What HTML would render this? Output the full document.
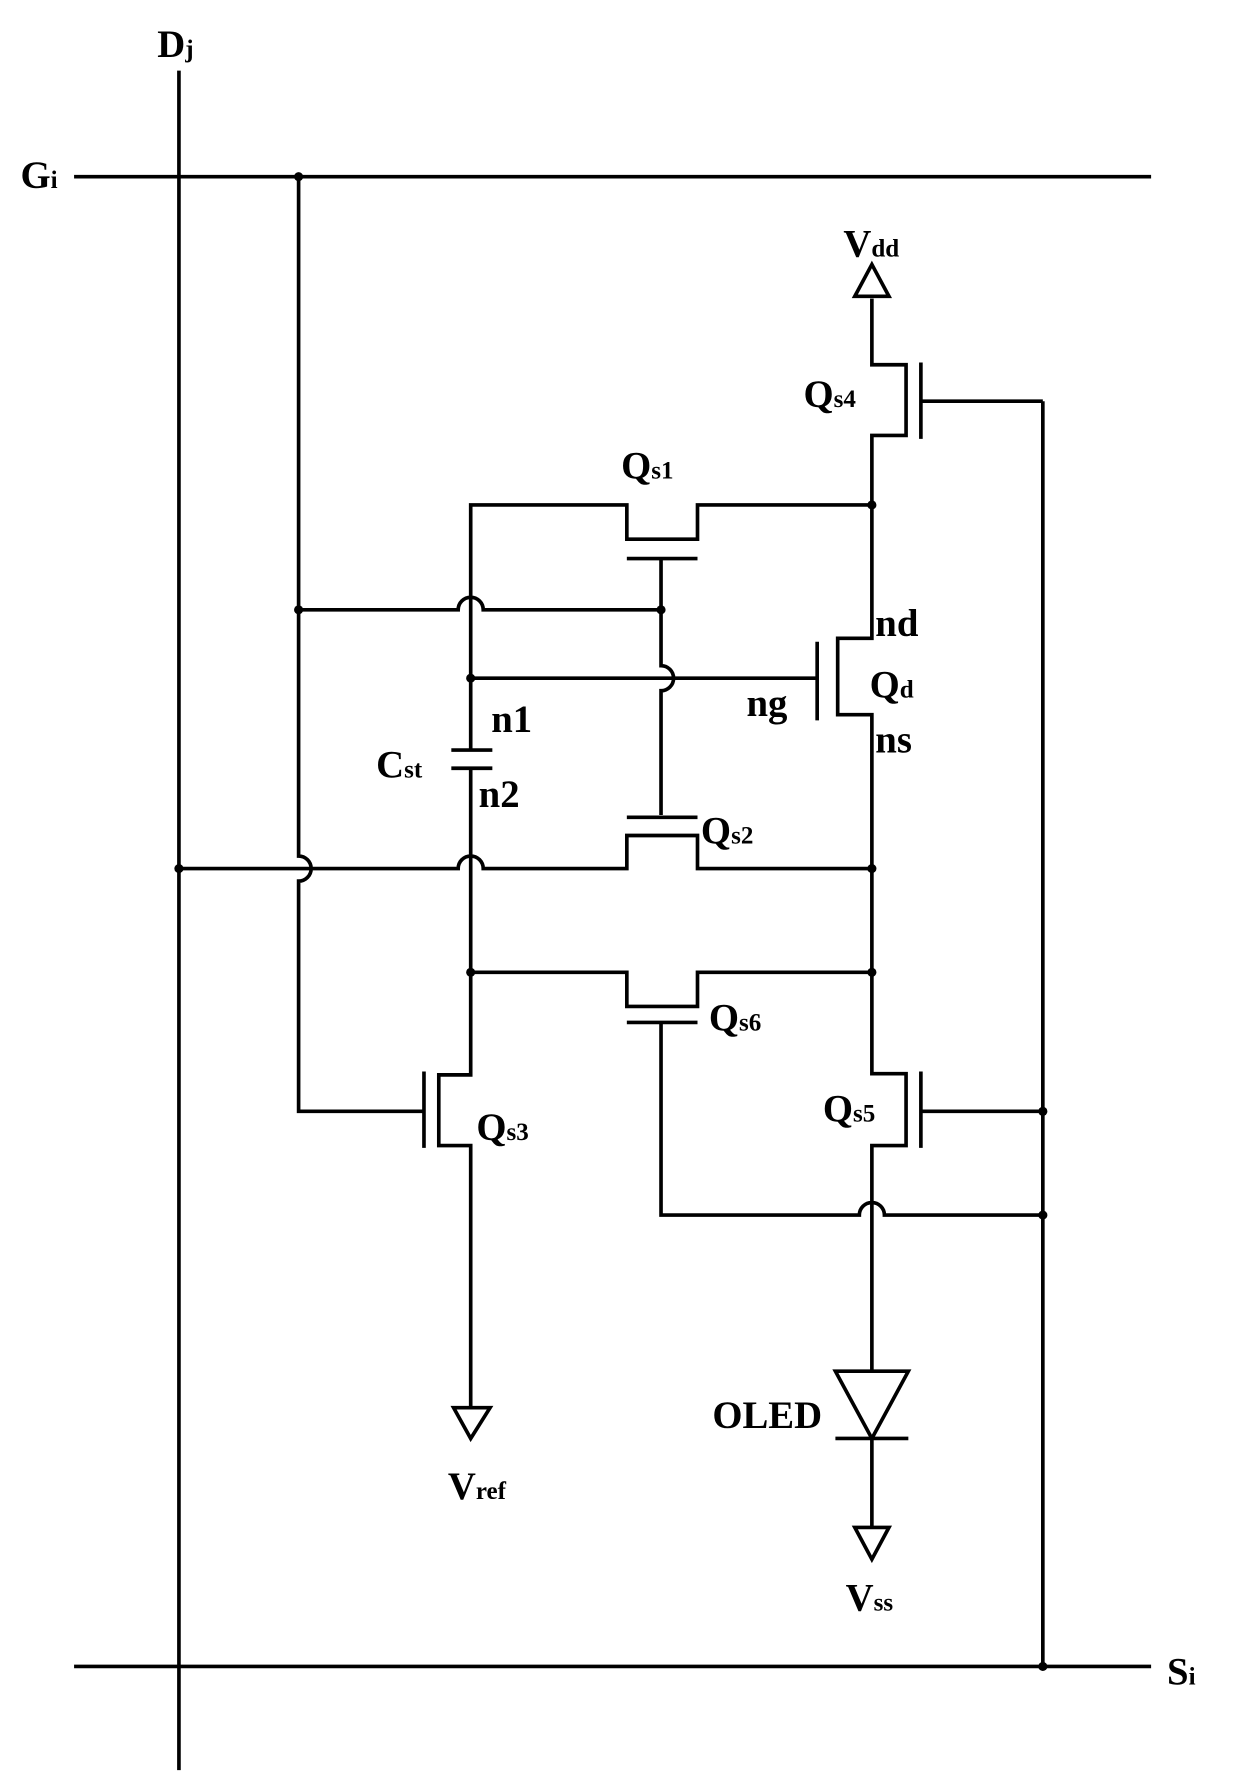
<!DOCTYPE html>
<html><head><meta charset="utf-8"><style>
html,body{margin:0;padding:0;background:#fff;}
svg{display:block;}
text{font-family:"Liberation Serif",serif;font-weight:bold;fill:#000;}
.m{font-size:34px;}
.s{font-size:22px;}
</style></head><body>
<svg width="1240" height="1785" viewBox="0 0 1088 1566" preserveAspectRatio="none" xmlns="http://www.w3.org/2000/svg">
<g fill="none" stroke="#000" stroke-width="3.2">
<line x1="157" y1="62" x2="157" y2="1553"/>
<line x1="65" y1="155" x2="1010" y2="155"/>
<line x1="65" y1="1462" x2="1010" y2="1462"/>
<path d="M262 155 V751 A11 11 0 0 1 262 773 V975 H372"/>
<line x1="372" y1="940" x2="372" y2="1007"/>
<path d="M413 853 V943 H385 V1005 H413 V1235"/>
<path d="M262 535 H402 A11 11 0 0 1 424 535 H580"/>
<path d="M580 490 V584 A11 11 0 0 1 580 606 V715"/>
<path d="M413 658 V443 H550 V473 H612 V443 H765"/>
<line x1="550" y1="490" x2="612" y2="490"/>
<line x1="413" y1="595" x2="717" y2="595"/>
<line x1="717" y1="563" x2="717" y2="632"/>
<line x1="396" y1="658" x2="432" y2="658"/>
<line x1="396" y1="674" x2="432" y2="674"/>
<path d="M413 674 V853"/>
<path d="M157 762 H402 A11 11 0 0 1 424 762 H550 V733 H612 V762 H765"/>
<line x1="550" y1="717" x2="612" y2="717"/>
<path d="M413 853 H550 V883 H612 V853 H765"/>
<line x1="550" y1="897" x2="612" y2="897"/>
<path d="M580 897 V1066 H754 A11 11 0 0 1 776 1066 H915"/>
<path d="M765 262 V320 H795 V382 H765 V560 H735 V627 H765 V942 H795 V1005 H765 V1203"/>
<line x1="808" y1="318" x2="808" y2="385"/>
<line x1="808" y1="352" x2="915" y2="352"/>
<line x1="808" y1="940" x2="808" y2="1007"/>
<line x1="808" y1="975" x2="915" y2="975"/>
<line x1="915" y1="352" x2="915" y2="1462"/>
<path d="M765 232 L780 260 L750 260 Z"/>
<path d="M398 1235 L430 1235 L413 1262 Z"/>
<path d="M733 1203 L797 1203 L765 1262 Z"/>
<line x1="733" y1="1262" x2="797" y2="1262"/>
<path d="M765 1262 V1340"/>
<path d="M750 1340 L780 1340 L765 1368 Z"/>
</g>
<g fill="#000">
<circle cx="262" cy="155" r="4"/><circle cx="262" cy="535" r="4"/><circle cx="580" cy="535" r="4"/>
<circle cx="413" cy="595" r="4"/><circle cx="413" cy="853" r="4"/><circle cx="157" cy="762" r="4"/>
<circle cx="765" cy="443" r="4"/><circle cx="765" cy="762" r="4"/><circle cx="765" cy="853" r="4"/>
<circle cx="915" cy="975" r="4"/><circle cx="915" cy="1066" r="4"/><circle cx="915" cy="1462" r="4"/>
</g>
<text x="138" y="50" class="m">D<tspan class="s">j</tspan></text>
<text x="18" y="165" class="m">G<tspan class="s">i</tspan></text>
<text x="1024" y="1478" class="m">S<tspan class="s">i</tspan></text>
<text x="740" y="225" class="m">V<tspan class="s">dd</tspan></text>
<text x="705" y="357" class="m">Q<tspan class="s">s4</tspan></text>
<text x="545" y="420" class="m">Q<tspan class="s">s1</tspan></text>
<text x="768" y="558" class="m">nd</text>
<text x="763" y="612" class="m">Q<tspan class="s">d</tspan></text>
<text x="768" y="660" class="m">ns</text>
<text x="655" y="628" class="m">ng</text>
<text x="431" y="642" class="m">n1</text>
<text x="330" y="682" class="m">C<tspan class="s">st</tspan></text>
<text x="420" y="708" class="m">n2</text>
<text x="615" y="740" class="m">Q<tspan class="s">s2</tspan></text>
<text x="622" y="904" class="m">Q<tspan class="s">s6</tspan></text>
<text x="418" y="1000" class="m">Q<tspan class="s">s3</tspan></text>
<text x="722" y="984" class="m">Q<tspan class="s">s5</tspan></text>
<text x="393" y="1315" class="m">V<tspan class="s">ref</tspan></text>
<text x="625" y="1253" class="m">OLED</text>
<text x="742" y="1413" class="m">V<tspan class="s">ss</tspan></text>
</svg>
</body></html>
